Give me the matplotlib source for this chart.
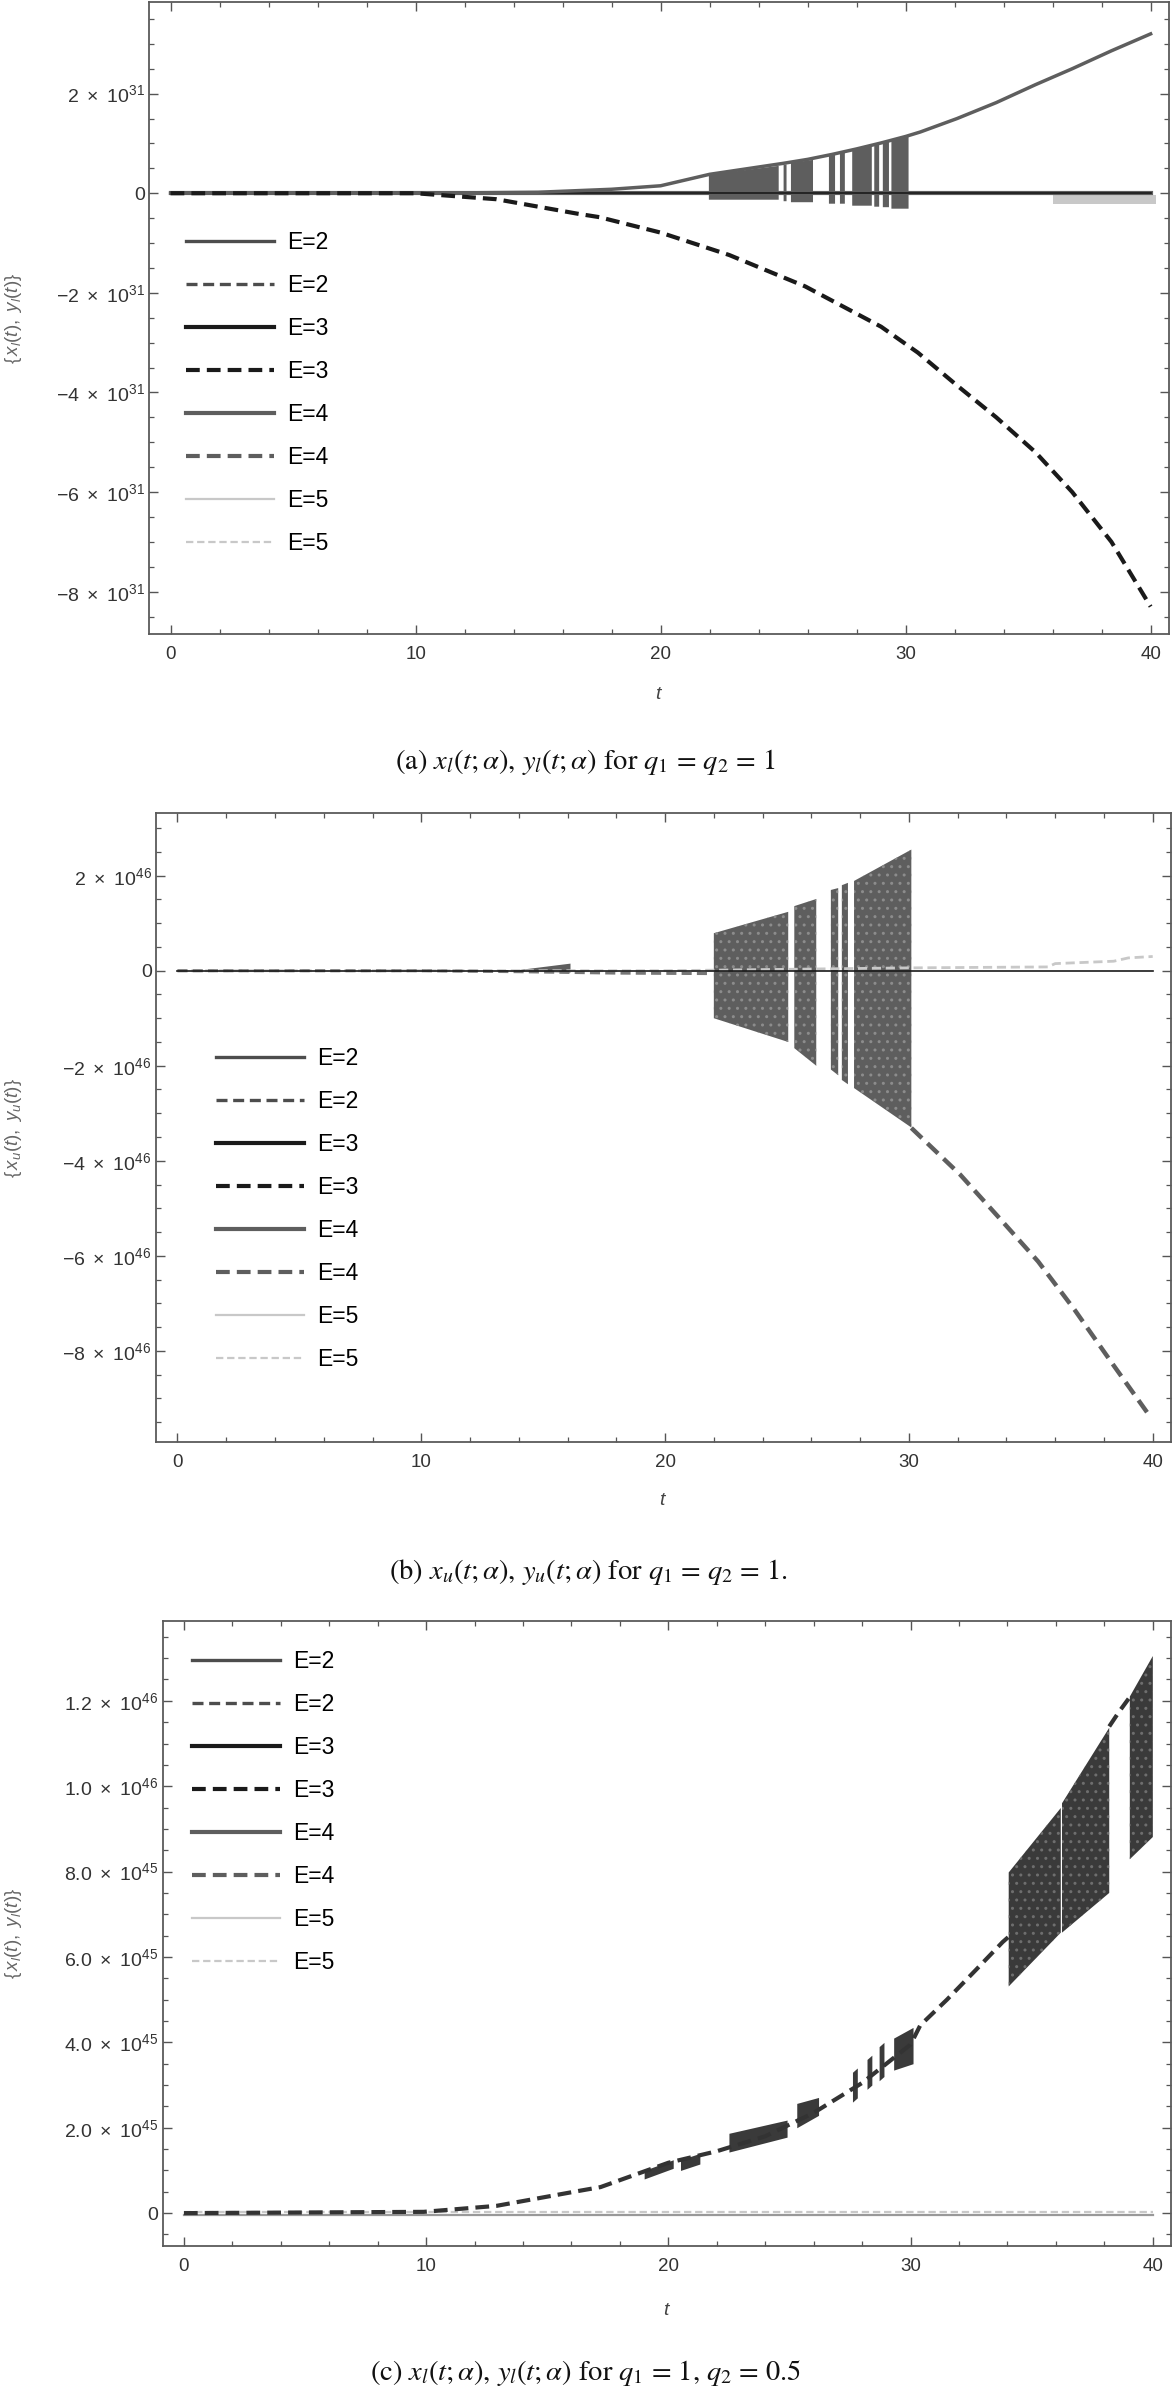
import numpy as np
import matplotlib
matplotlib.use("Agg")
import matplotlib.pyplot as plt
from matplotlib.lines import Line2D
from matplotlib.ticker import FixedLocator, FixedFormatter, MultipleLocator

plt.rcParams.update({
    "font.family": ["Liberation Sans", "DejaVu Sans"],
    "mathtext.fontset": "custom",
    "mathtext.rm": "Liberation Sans",
    "mathtext.it": "Liberation Sans:italic",
    "mathtext.bf": "Liberation Sans:bold",
    "mathtext.sf": "Liberation Sans",
    "hatch.linewidth": 1.0,
})

# ---------------- common ----------------
legend_labels = ["E=2", "E=2", "E=3", "E=3", "E=4", "E=4", "E=5", "E=5"]
xticks = [0, 10, 20, 30, 40]
xtick_labels = ["0", "10", "20", "30", "40"]

# ---------------- panel (a): values in units of 1e31 ----------------
a_unit = 1e31
a_yticks = [2, 0, -2, -4, -6, -8]
a_ytick_labels = [r"$2\ \times\ 10^{31}$", "0", r"$-2\ \times\ 10^{31}$", r"$-4\ \times\ 10^{31}$",
                  r"$-6\ \times\ 10^{31}$", r"$-8\ \times\ 10^{31}$"]
a_t_zero = [0, 40]
a_zero = [0, 0]
a_t_up = [0, 10, 15, 18, 20, 22, 25, 26, 27, 28, 29, 30, 30.6, 32.1, 33.7, 35.3, 36.8, 38.4, 40]
a_up = [0, 0, 0.02, 0.08, 0.15, 0.38, 0.6, 0.68, 0.78, 0.89, 1.01, 1.14, 1.23, 1.50, 1.82,
        2.18, 2.50, 2.86, 3.2]
a_t_dn = [0, 10, 13.3, 16.6, 17.5, 20, 22.8, 25.9, 29, 30.5, 32.1, 33.7, 35.3, 36.8, 38.4, 40]
a_dn = [0, 0, -0.12, -0.41, -0.48, -0.79, -1.24, -1.87, -2.68, -3.2, -3.86, -4.5, -5.2,
        -6.0, -7.0, -8.3]
# blocks: (t0, t1, top0, top1, bottom0, bottom1)
a_blocks = [(21.95, 24.8, 0.38, 0.56, -0.12, -0.12), (25.0, 25.12, 0.58, 0.59, -0.15, -0.15),
            (25.3, 26.2, 0.62, 0.68, -0.17, -0.17), (26.85, 27.1, 0.76, 0.79, -0.2, -0.2),
            (27.3, 27.5, 0.81, 0.84, -0.2, -0.2), (27.8, 28.6, 0.88, 0.97, -0.24, -0.24),
            (28.7, 28.9, 0.99, 1.01, -0.26, -0.26), (29.05, 29.3, 1.03, 1.06, -0.27, -0.27),
            (29.4, 30.1, 1.08, 1.15, -0.3, -0.3)]
a_band_e5 = (36.0, 40.2, -0.04, -0.04, -0.21, -0.21)

# ---------------- panel (b): values in units of 1e46 ----------------
b_unit = 1e46
b_yticks = [2, 0, -2, -4, -6, -8]
b_ytick_labels = [r"$2\ \times\ 10^{46}$", "0", r"$-2\ \times\ 10^{46}$", r"$-4\ \times\ 10^{46}$",
                  r"$-6\ \times\ 10^{46}$", r"$-8\ \times\ 10^{46}$"]
b_t_dn0 = [0, 10, 14, 18, 21.9]
b_dn0 = [0, 0, -0.02, -0.05, -0.06]
b_t_dn = [30.1, 32.1, 33.7, 35.3, 36.8, 38.4, 39.9]
b_dn = [-3.31, -4.29, -5.2, -6.12, -7.14, -8.31, -9.39]
b_blocks = [(22.0, 25.05, 0.79, 1.24, -1.0, -1.5), (25.3, 26.2, 1.36, 1.51, -1.63, -2.0),
            (26.8, 27.1, 1.70, 1.74, -2.08, -2.2), (27.25, 27.5, 1.8, 1.85, -2.3, -2.39),
            (27.75, 30.1, 1.89, 2.55, -2.47, -3.3)]
b_wedge = (13.6, 16.1, 0.0, 0.16, 0.0, -0.03)
b_t_e5 = [0, 20, 30, 35.7, 36, 38.4, 39, 40]
b_e5 = [0, 0, 0.06, 0.08, 0.15, 0.2, 0.27, 0.3]

# ---------------- panel (c): values in units of 1e45 ----------------
c_unit = 1e45
c_yticks = [12, 10, 8, 6, 4, 2, 0]
c_ytick_labels = [r"$1.2\ \times\ 10^{46}$", r"$1.0\ \times\ 10^{46}$", r"$8.0\ \times\ 10^{45}$",
                  r"$6.0\ \times\ 10^{45}$", r"$4.0\ \times\ 10^{45}$", r"$2.0\ \times\ 10^{45}$", "0"]
c_t_up = [0, 9.9, 12.9, 16.3, 17.2, 20, 22, 24, 26, 28, 30, 30.4, 31.5, 32.7, 33.8, 34.1]
c_up = [0, 0.03, 0.17, 0.52, 0.61, 1.18, 1.45, 1.8, 2.35, 3.05, 3.95, 4.4, 5.0, 5.7, 6.35, 6.5]
c_t_up2 = [38.2, 38.6, 39.0]
c_up2 = [11.4, 11.74, 12.05]
c_big_blocks = [(34.05, 36.2, 7.98, 9.49, 5.31, 6.57), (36.25, 38.2, 9.6, 11.37, 6.57, 7.5),
                (39.05, 40.0, 12.1, 13.05, 8.29, 8.81)]
c_small_blocks = [(22.5, 24.9, 1.87, 2.18, 1.43, 1.78), (25.3, 26.2, 2.57, 2.71, 2.0, 2.29),
                  (29.3, 30.1, 4.1, 4.35, 3.35, 3.5), (27.6, 27.8, 3.3, 3.4, 2.6, 2.7),
                  (28.2, 28.4, 3.6, 3.7, 2.9, 3.0), (28.7, 28.9, 3.9, 4.0, 3.1, 3.2),
                  (19.0, 20.2, 1.0, 1.25, 0.8, 1.05), (20.5, 21.3, 1.25, 1.4, 1.0, 1.15)]

# ---------------- styles ----------------
C2, C3, C4, C5 = "#4d4d4d", "#1a1a1a", "#5e5e5e", "#c8c8c8"
DASH = (0, (3.3, 1.7))
legend_styles = [dict(color=C2, lw=2.4, ls="-"), dict(color=C2, lw=2.4, ls=DASH),
                 dict(color=C3, lw=3.0, ls="-"), dict(color=C3, lw=3.0, ls=DASH),
                 dict(color=C4, lw=3.0, ls="-"), dict(color=C4, lw=3.0, ls=DASH),
                 dict(color=C5, lw=1.6, ls="-"), dict(color=C5, lw=1.6, ls=DASH)]

W, H = 1176, 2389
fig = plt.figure(figsize=(W / 100, H / 100), dpi=100)


def px_axes(l, t, r, b):
    return fig.add_axes([l / W, 1 - b / H, (r - l) / W, (b - t) / H])


def style_axes(ax, yticks, ylabels, unit, ylim, yminor, ylab, ylab_x, tlab_y):
    ax.set_xlim(-0.88, 40.75)
    ax.set_ylim(ylim[0] * unit, ylim[1] * unit)
    ax.xaxis.set_major_locator(FixedLocator(xticks))
    ax.xaxis.set_major_formatter(FixedFormatter(xtick_labels))
    ax.xaxis.set_minor_locator(MultipleLocator(2))
    ax.yaxis.set_major_locator(FixedLocator([v * unit for v in yticks]))
    ax.yaxis.set_major_formatter(FixedFormatter(ylabels))
    ax.yaxis.set_minor_locator(MultipleLocator(yminor * unit))
    ax.tick_params(which="both", direction="in", top=True, right=True, color="#555555",
                   labelcolor="#333333")
    ax.tick_params(axis="x", labelsize=13.5, pad=8.5)
    ax.tick_params(axis="y", labelsize=14, pad=3)
    ax.tick_params(which="major", length=6.5, width=1.0)
    ax.tick_params(which="minor", length=3.5, width=0.9)
    for s in ax.spines.values():
        s.set_color("#5a5a5a")
        s.set_linewidth(1.3)
    ax.set_ylabel(ylab, fontsize=13.5, color="#666666")
    ax.yaxis.set_label_coords(ylab_x, 0.5)
    ax.set_xlabel(r"$t$", fontsize=14, color="#444444")
    ax.xaxis.set_label_coords(0.5, tlab_y)


def fill_block(ax, blk, unit, color, z=2, hatch=None, hatch_color=None):
    t0, t1, p0, p1, q0, q1 = blk
    if hatch:
        ax.fill_between([t0, t1], [q0 * unit, q1 * unit], [p0 * unit, p1 * unit],
                        facecolor=color, edgecolor=hatch_color, hatch=hatch, lw=0, zorder=z)
    else:
        ax.fill_between([t0, t1], [q0 * unit, q1 * unit], [p0 * unit, p1 * unit],
                        color=color, lw=0, zorder=z)


def add_legend(ax, left_px, top_px):
    handles = [Line2D([0], [0], **st) for st in legend_styles]
    ax.legend(handles, legend_labels, loc="upper left",
              bbox_to_anchor=(left_px / W, 1 - top_px / H), bbox_transform=fig.transFigure,
              frameon=False, borderpad=0, borderaxespad=0, handlelength=3.85,
              handletextpad=0.55, labelspacing=0.87, fontsize=16.5)


# ---------------- panel (a) ----------------
axa = px_axes(149, 2, 1169, 634)
fill_block(axa, a_band_e5, a_unit, C5, z=1)
for blk in a_blocks:
    fill_block(axa, blk, a_unit, C4)
axa.plot(a_t_zero, [v * a_unit for v in a_zero], color=C4, lw=3.0, zorder=3)
axa.plot(a_t_zero, [v * a_unit for v in a_zero], color=C3, lw=1.2, zorder=3)
axa.plot(a_t_up, [v * a_unit for v in a_up], color=C4, lw=2.5, zorder=3)
axa.plot(a_t_dn, [v * a_unit for v in a_dn], color=C3, lw=3.0, ls=DASH, zorder=4)
style_axes(axa, a_yticks, a_ytick_labels, a_unit, (-8.85, 3.84), 0.5,
           r"$\{\,x_l(t),\ y_l(t)\}$", -0.1225, -0.082)
add_legend(axa, 186, 231)

# ---------------- panel (b) ----------------
axb = px_axes(156, 813, 1171, 1442)
fill_block(axb, b_wedge, b_unit, C4)
for blk in b_blocks:
    fill_block(axb, blk, b_unit, C4, hatch="..", hatch_color="#8c8c8c")
axb.plot(b_t_e5, [v * b_unit for v in b_e5], color=C5, lw=2.0, ls=DASH, zorder=3)
axb.plot(b_t_dn0, [v * b_unit for v in b_dn0], color="#777777", lw=2.2, ls=DASH, zorder=3)
axb.plot(a_t_zero, [0, 0], color=C3, lw=1.2, zorder=4)
axb.plot(b_t_dn, [v * b_unit for v in b_dn], color=C4, lw=3.2, ls=DASH, zorder=4)
style_axes(axb, b_yticks, b_ytick_labels, b_unit, (-9.92, 3.32), 0.5,
           r"$\{\,x_u(t),\ y_u(t)\}$", -0.130, -0.079)
add_legend(axb, 216, 1047)

# ---------------- panel (c) ----------------
axc = px_axes(162.6, 1621, 1171, 2246)
axc.plot(a_t_zero, [-0.04 * c_unit, -0.04 * c_unit], color="#999999", lw=1.6, zorder=2)
axc.plot(a_t_zero, [0.03 * c_unit, 0.03 * c_unit], color=C5, lw=1.6, ls=DASH, zorder=2)
for blk in c_big_blocks:
    fill_block(axc, blk, c_unit, "#3a3a3a", hatch="..", hatch_color="#6e6e6e")
for blk in c_small_blocks:
    fill_block(axc, blk, c_unit, "#3a3a3a")
axc.plot(c_t_up, [v * c_unit for v in c_up], color="#333333", lw=3.0, ls=DASH, zorder=4)
axc.plot(c_t_up2, [v * c_unit for v in c_up2], color="#333333", lw=3.0, ls=DASH, zorder=4)
style_axes(axc, c_yticks, c_ytick_labels, c_unit, (-0.77, 13.87), 0.5,
           r"$\{\,x_l(t),\ y_l(t)\}$", -0.1375, -0.09)
add_legend(axc, 192, 1650)

# ---------------- captions ----------------
cap_kw = dict(ha="center", va="center", fontsize=20.5, family="STIXGeneral",
              math_fontfamily="stix", color="#111111")
fig.text(585 / W, 1 - 762 / H, r"(a) $x_l(t;\alpha)$, $y_l(t;\alpha)$ for $q_1$ = $q_2$ = 1", **cap_kw)
fig.text(588 / W, 1 - 1572 / H, r"(b) $x_u(t;\alpha)$, $y_u(t;\alpha)$ for $q_1$ = $q_2$ = 1.", **cap_kw)
fig.text(586 / W, 1 - 2373 / H, r"(c) $x_l(t;\alpha)$, $y_l(t;\alpha)$ for $q_1$ = 1, $q_2$ = 0.5", **cap_kw)

fig.savefig("out.png", dpi=100)
